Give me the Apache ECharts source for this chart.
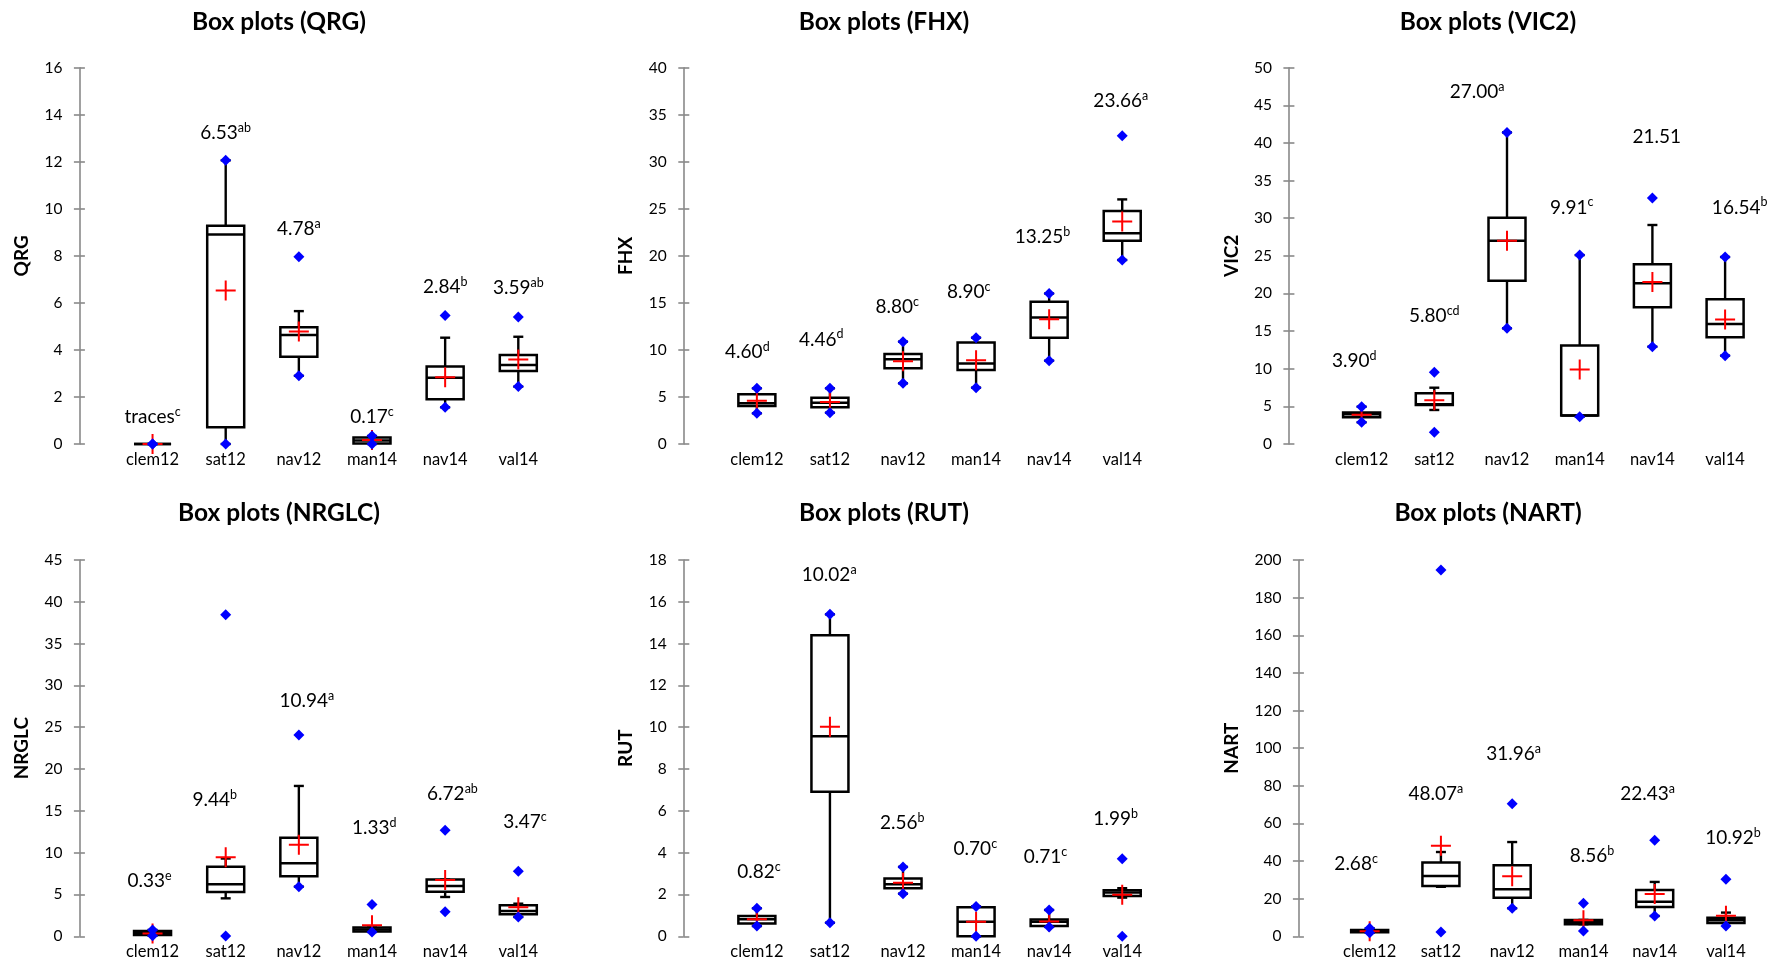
<!DOCTYPE html>
<html>
<head>
<meta charset="utf-8">
<script src="https://cdn.jsdelivr.net/npm/echarts@6/dist/echarts.min.js"></script>
<style>
html,body{margin:0;padding:0;background:#fff;}
#c{width:1772px;height:962px;}
</style>
</head>
<body>
<div id="c"></div>
<script>
// ---------- data ----------
const categories = ['clem12', 'sat12', 'nav12', 'man14', 'nav14', 'val14'];

// box = [whisker low, Q1, median, Q3, whisker high]
const qrgBox = [[0,0,0,0,0],[0,0.71,8.91,9.28,12.06],[2.9,3.71,4.63,4.96,5.65],[0,0.02,0.15,0.28,0.34],[1.56,1.9,2.82,3.29,4.52],[2.44,3.1,3.36,3.78,4.56]];
const qrgMean = [0, 6.53, 4.78, 0.17, 2.84, 3.59];
const qrgMin = [0, 0, 2.9, 0, 1.56, 2.44];
const qrgMax = [0, 12.06, 7.96, 0.34, 5.46, 5.4];
const qrgText = ['traces', '6.53', '4.78', '0.17', '2.84', '3.59'];
const qrgSup = ['c', 'ab', 'a', 'c', 'b', 'ab'];
const qrgLabelY = [1.16, 13.21, 9.13, 1.16, 6.66, 6.62];
const qrgLabelX = [1, 2, 3, 4, 5, 6];

const fhxBox = [[3.26,4.04,4.32,5.28,5.92],[3.33,3.9,4.39,4.92,5.92],[6.45,8.04,9.0,9.57,10.88],[5.99,7.87,8.57,10.8,11.3],[8.86,11.3,13.46,15.13,16.0],[19.56,21.61,22.39,24.77,26.0]];
const fhxMean = [4.60, 4.46, 8.80, 8.90, 13.25, 23.66];
const fhxMin = [3.26, 3.33, 6.45, 5.99, 8.86, 19.56];
const fhxMax = [5.92, 5.92, 10.88, 11.3, 16.0, 32.77];
const fhxText = ['4.60', '4.46', '8.80', '8.90', '13.25', '23.66'];
const fhxSup = ['d', 'd', 'c', 'c', 'b', 'a'];
const fhxLabelY = [9.81, 11.12, 14.53, 16.19, 21.97, 36.46];
const fhxLabelX = [0.87, 1.88, 2.92, 3.9, 4.91, 5.98];

const vic2Box = [[2.88,3.54,3.94,4.2,4.96],[4.52,5.18,5.27,6.73,7.48],[15.37,21.7,27.0,30.07,41.4],[3.63,3.8,3.8,13.1,25.1],[12.93,18.16,21.35,23.87,29.1],[11.74,14.17,15.94,19.22,24.85]];
const vic2Mean = [3.90, 5.80, 27.00, 9.91, 21.51, 16.54];
const vic2Min = [2.88, 1.55, 15.37, 3.63, 12.93, 11.74];
const vic2Max = [4.96, 9.52, 41.4, 25.1, 32.7, 24.85];
const vic2Text = ['3.90', '5.80', '27.00', '9.91', '21.51', '16.54'];
const vic2Sup = ['d', 'cd', 'a', 'c', '', 'b'];
const vic2LabelY = [11.03, 17.0, 46.8, 31.44, 40.83, 31.44];
const vic2LabelX = [0.9, 2.0, 2.59, 3.89, 5.06, 6.2];

const nrglcBox = [[0.08,0.16,0.4,0.64,0.76],[4.54,5.3,6.22,8.33,9.3],[5.94,7.17,8.73,11.8,17.98],[0.52,0.56,0.8,1.04,1.04],[4.7,5.34,6.02,6.78,6.78],[2.31,2.63,3.03,3.71,3.9]];
const nrglcMean = [0.33, 9.44, 10.94, 1.33, 6.72, 3.47];
const nrglcMin = [0.08, 0.05, 5.94, 0.52, 2.95, 2.31];
const nrglcMax = [0.76, 38.46, 24.07, 3.79, 12.67, 7.77];
const nrglcText = ['0.33', '9.44', '10.94', '1.33', '6.72', '3.47'];
const nrglcSup = ['e', 'b', 'a', 'd', 'ab', 'c'];
const nrglcLabelY = [6.62, 16.26, 28.14, 12.99, 16.98, 13.71];
const nrglcLabelX = [0.96, 1.85, 3.11, 4.03, 5.10, 6.09];

const rutBox = [[0.49,0.61,0.81,0.97,1.34],[0.65,6.92,9.57,14.4,15.4],[2.04,2.3,2.49,2.77,3.32],[0,0,0.7,1.39,1.43],[0.45,0.49,0.7,0.8,1.26],[1.85,1.93,2.09,2.2,2.3]];
const rutMean = [0.82, 10.02, 2.56, 0.70, 0.71, 1.99];
const rutMin = [0.49, 0.65, 2.04, 0, 0.45, 0];
const rutMax = [1.34, 15.4, 3.32, 1.43, 1.26, 3.71];
const rutText = ['0.82', '10.02', '2.56', '0.70', '0.71', '1.99'];
const rutSup = ['c', 'a', 'b', 'c', 'c', 'b'];
const rutLabelY = [3.09, 17.3, 5.44, 4.16, 3.79, 5.6];
const rutLabelX = [1.03, 1.99, 2.99, 3.99, 4.95, 5.91];

const nartBox = [[1.95,2.2,2.7,3.3,4.25],[26.3,26.8,32.1,39.2,44.8],[14.9,20.55,25.0,37.7,50.1],[6.4,6.4,7.6,8.7,8.7],[10.8,15.6,18.4,24.6,28.9],[7.1,7.1,8.5,9.9,12.6]];
const nartMean = [2.68, 48.07, 31.96, 8.56, 22.43, 10.92];
const nartMin = [1.95, 2.3, 14.9, 2.83, 10.8, 5.5];
const nartMax = [4.25, 194.7, 70.5, 17.5, 51.0, 30.3];
const nartText = ['2.68', '48.07', '31.96', '8.56', '22.43', '10.92'];
const nartSup = ['c', 'a', 'a', 'b', 'a', 'b'];
const nartLabelY = [38.6, 75.5, 96.7, 42.6, 75.5, 52.4];
const nartLabelX = [0.81, 1.93, 3.02, 4.12, 4.90, 6.10];

// axis maxima and tick steps
const yMaxes = [16, 40, 50, 45, 18, 200];
const yTickSteps = [2, 5, 5, 5, 2, 20];
const varNames = ['QRG', 'FHX', 'VIC2', 'NRGLC', 'RUT', 'NART'];

// ---------- layout (pixels) ----------
const layout = [
  {left: 79.4,   top: 67.7, band: 73.15, titleX: 279,  titleY: 21.7,  nameGap: 48},
  {left: 683.8,  top: 67.7, band: 73.07, titleX: 884,  titleY: 21.7,  nameGap: 48},
  {left: 1288.9, top: 67.7, band: 72.7,  titleX: 1488, titleY: 21.7,  nameGap: 48},
  {left: 79.4,   top: 560,  band: 73.15, titleX: 279,  titleY: 513.5, nameGap: 48},
  {left: 683.8,  top: 560,  band: 73.07, titleX: 884,  titleY: 513.5, nameGap: 48},
  {left: 1298.4, top: 560,  band: 71.26, titleX: 1488, titleY: 513.5, nameGap: 57}
];
const plotHeight = 376.3;
const xMax = 6.6;

const panels = [
  {box: qrgBox, mean: qrgMean, min: qrgMin, max: qrgMax, text: qrgText, sup: qrgSup, ly: qrgLabelY, lx: qrgLabelX},
  {box: fhxBox, mean: fhxMean, min: fhxMin, max: fhxMax, text: fhxText, sup: fhxSup, ly: fhxLabelY, lx: fhxLabelX},
  {box: vic2Box, mean: vic2Mean, min: vic2Min, max: vic2Max, text: vic2Text, sup: vic2Sup, ly: vic2LabelY, lx: vic2LabelX},
  {box: nrglcBox, mean: nrglcMean, min: nrglcMin, max: nrglcMax, text: nrglcText, sup: nrglcSup, ly: nrglcLabelY, lx: nrglcLabelX},
  {box: rutBox, mean: rutMean, min: rutMin, max: rutMax, text: rutText, sup: rutSup, ly: rutLabelY, lx: rutLabelX},
  {box: nartBox, mean: nartMean, min: nartMin, max: nartMax, text: nartText, sup: nartSup, ly: nartLabelY, lx: nartLabelX}
];

const FONT = 'Lato';
const AXIS_GRAY = '#898989';
const PLUS = 'path://M9,0H11V9H20V11H11V20H9V11H0V9H9Z';

function renderBox(params, api) {
  const x = api.value(0);
  const pts = [1, 2, 3, 4, 5].map(d => api.coord([x, api.value(d)]));
  const cx = pts[0][0];
  const low = pts[0][1], q1 = pts[1][1], med = pts[2][1], q3 = pts[3][1], high = pts[4][1];
  const hw = 18.5, cw = 5;
  const ls = {stroke: '#000', lineWidth: 2.4};
  const bs = {stroke: '#000', lineWidth: 2.5};
  return {type: 'group', children: [
    {type: 'line', shape: {x1: cx, y1: q1, x2: cx, y2: low}, style: ls},
    {type: 'line', shape: {x1: cx - cw, y1: low, x2: cx + cw, y2: low}, style: ls},
    {type: 'line', shape: {x1: cx, y1: q3, x2: cx, y2: high}, style: ls},
    {type: 'line', shape: {x1: cx - cw, y1: high, x2: cx + cw, y2: high}, style: ls},
    {type: 'rect', shape: {x: cx - hw, y: q3, width: 2 * hw, height: q1 - q3}, style: {fill: '#fff', stroke: '#000', lineWidth: 2.5}},
    {type: 'line', shape: {x1: cx - hw, y1: med, x2: cx + hw, y2: med}, style: bs}
  ]};
}

const grid = [], xAxis = [], yAxis = [], series = [], graphic = [];
panels.forEach((p, g) => {
  const L = layout[g];
  grid.push({left: L.left, top: L.top, width: L.band * xMax, height: plotHeight, outerBoundsMode: 'none', containLabel: false});
  xAxis.push({
    gridIndex: g, type: 'value', min: 0, max: xMax, interval: 1,
    axisLine: {show: false}, axisTick: {show: false}, splitLine: {show: false},
    axisLabel: {
      fontSize: 16.5, fontFamily: FONT, color: '#000', margin: 7, showMaxLabel: false, showMinLabel: false,
      formatter: v => (Number.isInteger(v) && v >= 1 && v <= categories.length) ? categories[v - 1] : ''
    }
  });
  const common = {gridIndex: g, type: 'value', position: 'left', min: 0, max: yMaxes[g], interval: yTickSteps[g], splitLine: {show: false}};
  yAxis.push(Object.assign({}, common, {
    axisLine: {show: true, onZero: false, lineStyle: {color: AXIS_GRAY, width: 1.6}},
    axisTick: {show: true, length: 5.5, lineStyle: {color: AXIS_GRAY, width: 1.6}},
    axisLabel: {fontSize: 15.5, fontFamily: FONT, color: '#000', margin: 17},
    name: varNames[g], nameLocation: 'middle', nameGap: L.nameGap, nameRotate: 90,
    nameTextStyle: {fontFamily: FONT, fontWeight: 'bold', fontSize: 19, color: '#000'}
  }));
  yAxis.push(Object.assign({}, common, {
    axisLine: {show: false, onZero: false},
    axisTick: {show: true, inside: true, length: 5.5, lineStyle: {color: AXIS_GRAY, width: 1.6}},
    axisLabel: {show: false}
  }));
  const yi = 2 * g;
  series.push({
    type: 'custom', xAxisIndex: g, yAxisIndex: yi, z: 2, silent: true,
    renderItem: renderBox,
    encode: {x: 0, y: [1, 2, 3, 4, 5]},
    data: p.box.map((b, i) => [i + 1].concat(b))
  });
  series.push({
    type: 'scatter', xAxisIndex: g, yAxisIndex: yi, z: 3, silent: true,
    symbol: PLUS, symbolSize: 20, itemStyle: {color: '#ff0000', opacity: 1},
    data: p.mean.map((m, i) => [i + 1, m])
  });
  series.push({
    type: 'scatter', xAxisIndex: g, yAxisIndex: yi, z: 4, silent: true,
    symbol: 'diamond', symbolSize: 11, itemStyle: {color: '#0000ff', opacity: 1},
    data: p.min.map((m, i) => [i + 1, m]).concat(p.max.map((m, i) => [i + 1, m]))
  });
  series.push({
    type: 'scatter', xAxisIndex: g, yAxisIndex: yi, z: 5, silent: true,
    symbolSize: 2, itemStyle: {color: 'rgba(255,255,255,0)'},
    data: p.lx.map((x, i) => [x, p.ly[i]]),
    label: {
      show: true, position: [1, 1], align: 'center', verticalAlign: 'middle',
      color: '#000', textBorderWidth: 0, textShadowBlur: 0, opacity: 1,
      formatter: prm => {
        const i = prm.dataIndex;
        return '{n|' + p.text[i] + '}' + (p.sup[i] ? '{s|' + p.sup[i] + '}' : '');
      },
      rich: {
        n: {fontFamily: FONT, fontSize: 19, color: '#000', lineHeight: 23, verticalAlign: 'middle'},
        s: {fontFamily: FONT, fontSize: 12.5, color: '#000', lineHeight: 23, verticalAlign: 'top'}
      }
    },
    labelLayout: {hideOverlap: false}
  });
  graphic.push({
    type: 'text', x: L.titleX, y: L.titleY, silent: true,
    style: {text: 'Box plots (' + varNames[g] + ')', font: 'bold 24.5px ' + FONT, fill: '#000',
            align: 'center', verticalAlign: 'middle', textAlign: 'center', textVerticalAlign: 'middle'}
  });
});

const chart = echarts.init(document.getElementById('c'), null, {renderer: 'canvas'});
chart.setOption({
  backgroundColor: '#fff',
  animation: false,
  grid, xAxis, yAxis, series, graphic
});
</script>
</body>
</html>
